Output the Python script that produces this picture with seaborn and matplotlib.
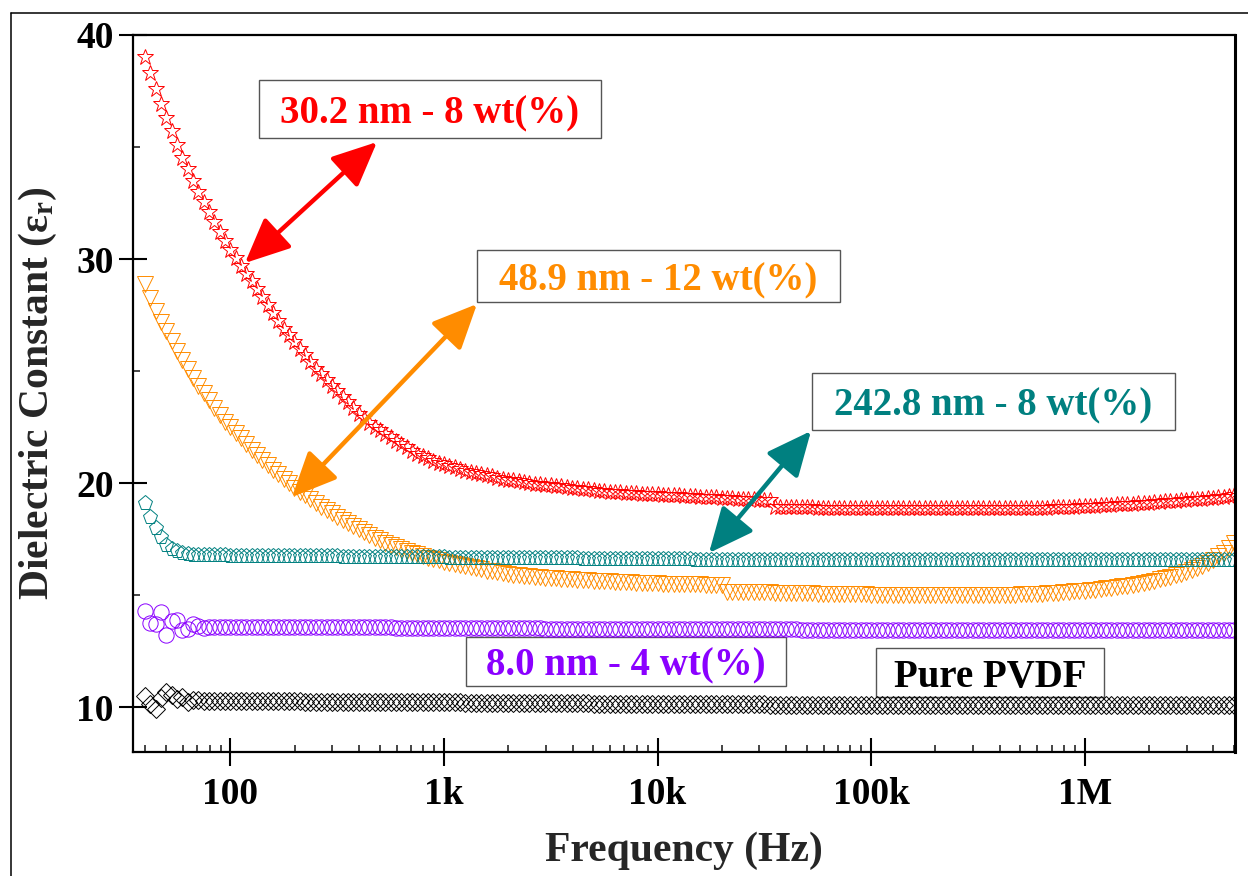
import numpy as np
import pandas as pd
import matplotlib
matplotlib.use("Agg")
import matplotlib.pyplot as plt
import seaborn as sns
from matplotlib.patches import Rectangle, FancyArrowPatch
from matplotlib.lines import Line2D
from matplotlib.ticker import LogLocator, NullFormatter

# Frequency sweep: 40 points per decade, 39.8 Hz to 5 MHz
freq_hz = np.logspace(1.6, 6.7, 205)

eps_30nm_8wt = [
    39.0, 38.3, 37.6, 36.9, 36.3, 35.7, 35.1, 34.5, 34.0, 33.5,
    33.0, 32.55, 32.1, 31.65, 31.2, 30.8, 30.4, 30.05, 29.7, 29.35,
    29.0, 28.65, 28.3, 27.95, 27.6, 27.25, 26.9, 26.6, 26.3, 26.0,
    25.7, 25.4, 25.1, 24.85, 24.6, 24.35, 24.1, 23.85, 23.6, 23.35,
    23.1, 22.9, 22.7, 22.52, 22.35, 22.2, 22.05, 21.9, 21.75, 21.6,
    21.45, 21.32, 21.2, 21.1, 21.0, 20.92, 20.85, 20.77, 20.7, 20.62,
    20.55, 20.5, 20.45, 20.4, 20.35, 20.3, 20.25, 20.2, 20.15, 20.12,
    20.1, 20.05, 20.0, 19.97, 19.95, 19.92, 19.9, 19.87, 19.85, 19.82,
    19.8, 19.77, 19.75, 19.72, 19.7, 19.67, 19.65, 19.62, 19.6, 19.59,
    19.58, 19.56, 19.55, 19.53, 19.52, 19.51, 19.5, 19.48, 19.47, 19.46,
    19.45, 19.43, 19.42, 19.41, 19.4, 19.38, 19.37, 19.36, 19.35, 19.34,
    19.33, 19.31, 19.3, 19.29, 19.28, 19.26, 19.25, 19.24, 18.95, 18.95,
    18.95, 18.94, 18.93, 18.93, 18.92, 18.92, 18.91, 18.91, 18.9, 18.9,
    18.9, 18.9, 18.9, 18.9, 18.89, 18.89, 18.89, 18.89, 18.88, 18.88,
    18.88, 18.88, 18.88, 18.88, 18.87, 18.87, 18.87, 18.87, 18.87, 18.87,
    18.87, 18.87, 18.87, 18.87, 18.87, 18.87, 18.88, 18.88, 18.88, 18.88,
    18.88, 18.88, 18.89, 18.89, 18.89, 18.9, 18.9, 18.9, 18.91, 18.91,
    18.92, 18.92, 18.93, 18.94, 18.95, 18.96, 18.97, 18.98, 19.0, 19.01,
    19.02, 19.03, 19.05, 19.06, 19.07, 19.08, 19.1, 19.11, 19.13, 19.14,
    19.16, 19.18, 19.2, 19.21, 19.23, 19.25, 19.27, 19.28, 19.3, 19.32,
    19.35, 19.37, 19.4, 19.42, 19.45,
]

eps_49nm_12wt = [
    28.9, 28.25, 27.7, 27.2, 26.8, 26.35, 25.9, 25.5, 25.1, 24.7,
    24.35, 24.0, 23.7, 23.35, 23.05, 22.75, 22.5, 22.25, 22.0, 21.75,
    21.5, 21.27, 21.05, 20.82, 20.6, 20.4, 20.2, 20.0, 19.8, 19.62,
    19.45, 19.27, 19.1, 18.95, 18.8, 18.65, 18.5, 18.35, 18.2, 18.07,
    17.95, 17.82, 17.7, 17.57, 17.45, 17.35, 17.25, 17.15, 17.05, 16.97,
    16.9, 16.82, 16.75, 16.67, 16.6, 16.55, 16.5, 16.45, 16.4, 16.35,
    16.3, 16.25, 16.2, 16.15, 16.1, 16.07, 16.05, 16.0, 15.95, 15.92,
    15.9, 15.87, 15.85, 15.82, 15.8, 15.78, 15.77, 15.75, 15.73, 15.71,
    15.7, 15.69, 15.68, 15.66, 15.65, 15.64, 15.63, 15.61, 15.6, 15.59,
    15.58, 15.57, 15.56, 15.55, 15.55, 15.54, 15.53, 15.52, 15.52, 15.51,
    15.5, 15.49, 15.49, 15.48, 15.48, 15.47, 15.47, 15.46, 15.46, 15.16,
    15.15, 15.15, 15.14, 15.14, 15.13, 15.13, 15.12, 15.12, 15.11, 15.11,
    15.1, 15.1, 15.09, 15.09, 15.08, 15.08, 15.07, 15.07, 15.06, 15.06,
    15.05, 15.05, 15.04, 15.04, 15.03, 15.03, 15.02, 15.02, 15.01, 15.01,
    15.0, 15.0, 15.0, 15.0, 14.99, 14.99, 14.99, 14.99, 14.99, 14.99,
    14.99, 15.0, 15.0, 15.0, 15.0, 15.0, 15.0, 15.0, 15.0, 15.0,
    15.01, 15.01, 15.02, 15.02, 15.03, 15.04, 15.05, 15.06, 15.07, 15.08,
    15.1, 15.11, 15.13, 15.15, 15.17, 15.18, 15.2, 15.22, 15.25, 15.27,
    15.3, 15.33, 15.36, 15.39, 15.43, 15.46, 15.5, 15.55, 15.6, 15.65,
    15.7, 15.76, 15.82, 15.89, 15.96, 16.04, 16.12, 16.22, 16.32, 16.44,
    16.58, 16.73, 16.9, 17.12, 17.35,
]

eps_243nm_8wt = [
    19.1, 18.5, 18.0, 17.6, 17.25, 17.08, 16.95, 16.88, 16.82, 16.8,
    16.78, 16.78, 16.77,
    16.77, 16.77, 16.77, 16.76, 16.76, 16.76, 16.76, 16.76, 16.75, 16.75, 16.75, 16.75, 16.75, 16.75, 16.74, 16.74,
    16.74, 16.74, 16.74, 16.73, 16.73, 16.73, 16.73, 16.73, 16.72, 16.72, 16.72, 16.72, 16.72, 16.71, 16.71, 16.71,
    16.71, 16.71, 16.70, 16.70, 16.70, 16.70, 16.70, 16.69, 16.69, 16.69, 16.69, 16.69, 16.68, 16.68, 16.68, 16.68,
    16.68, 16.67, 16.67, 16.67, 16.67, 16.67, 16.66, 16.66, 16.66, 16.66, 16.66, 16.65, 16.65, 16.65, 16.65, 16.65,
    16.64, 16.64, 16.64, 16.64, 16.64, 16.63, 16.63, 16.63, 16.63, 16.63, 16.62, 16.62, 16.62, 16.62, 16.62, 16.61,
    16.61, 16.61, 16.61, 16.61, 16.60, 16.60, 16.60, 16.60, 16.60, 16.60, 16.59, 16.59, 16.59, 16.59, 16.59, 16.59,
    16.58, 16.58, 16.58, 16.58, 16.58, 16.58, 16.58, 16.57, 16.57, 16.57, 16.57, 16.57, 16.57, 16.57, 16.57, 16.57,
    16.56, 16.56, 16.56, 16.56, 16.56, 16.56, 16.56, 16.56, 16.56, 16.56, 16.56, 16.56, 16.56, 16.56, 16.56, 16.56,
    16.56, 16.56, 16.56, 16.56, 16.56, 16.56, 16.56, 16.56, 16.55, 16.55, 16.55, 16.55, 16.55, 16.55, 16.55, 16.55,
    16.55, 16.55, 16.55, 16.55, 16.55, 16.55, 16.55, 16.55, 16.55, 16.55, 16.55, 16.55, 16.55, 16.55, 16.55, 16.55,
    16.55, 16.55, 16.55, 16.55, 16.55, 16.55, 16.55, 16.55, 16.55, 16.55, 16.55, 16.55, 16.55, 16.55, 16.55, 16.55,
    16.55, 16.55, 16.55, 16.55, 16.55, 16.55, 16.55, 16.55, 16.55, 16.55, 16.55, 16.55, 16.55, 16.55, 16.55, 16.55,
]

eps_8nm_4wt = [
    14.3, 13.75, 13.7, 14.25, 13.2, 13.85, 13.9, 13.45, 13.5, 13.7,
    13.62, 13.55, 13.6,
    13.60, 13.60, 13.60, 13.60, 13.60, 13.60, 13.59, 13.59, 13.59, 13.59, 13.59, 13.59, 13.59, 13.58, 13.58, 13.58,
    13.58, 13.58, 13.58, 13.58, 13.57, 13.57, 13.57, 13.57, 13.57, 13.57, 13.57, 13.56, 13.56, 13.56, 13.56, 13.56,
    13.56, 13.56, 13.55, 13.55, 13.55, 13.55, 13.55, 13.55, 13.55, 13.54, 13.54, 13.54, 13.54, 13.54, 13.54, 13.54,
    13.53, 13.53, 13.53, 13.53, 13.53, 13.53, 13.53, 13.52, 13.52, 13.52, 13.52, 13.52, 13.52, 13.52, 13.51, 13.51,
    13.51, 13.51, 13.51, 13.51, 13.51, 13.50, 13.50, 13.50, 13.50, 13.50, 13.50, 13.50, 13.50, 13.50, 13.49, 13.49,
    13.49, 13.49, 13.49, 13.49, 13.49, 13.49, 13.49, 13.49, 13.48, 13.48, 13.48, 13.48, 13.48, 13.48, 13.48, 13.48,
    13.48, 13.48, 13.47, 13.47, 13.47, 13.47, 13.47, 13.47, 13.47, 13.47, 13.47, 13.47, 13.47, 13.47, 13.46, 13.46,
    13.46, 13.46, 13.46, 13.46, 13.46, 13.46, 13.46, 13.46, 13.46, 13.46, 13.46, 13.46, 13.46, 13.46, 13.46, 13.46,
    13.46, 13.46, 13.46, 13.46, 13.46, 13.46, 13.45, 13.45, 13.45, 13.45, 13.45, 13.45, 13.45, 13.45, 13.45, 13.45,
    13.45, 13.45, 13.45, 13.45, 13.45, 13.45, 13.45, 13.45, 13.45, 13.45, 13.45, 13.45, 13.45, 13.45, 13.45, 13.45,
    13.45, 13.45, 13.45, 13.45, 13.45, 13.45, 13.45, 13.45, 13.45, 13.45, 13.45, 13.45, 13.45, 13.45, 13.45, 13.45,
    13.45, 13.45, 13.45, 13.45, 13.45, 13.45, 13.45, 13.45, 13.45, 13.45, 13.45, 13.45, 13.45, 13.45, 13.45, 13.45,
]

eps_pure_pvdf = [
    10.5, 10.15, 9.9, 10.4, 10.7, 10.55, 10.35, 10.45, 10.25, 10.32,
    10.3, 10.27, 10.29,
    10.28, 10.28, 10.28, 10.28, 10.28, 10.27, 10.27, 10.27, 10.27, 10.27, 10.27, 10.26, 10.26, 10.26, 10.26, 10.26,
    10.26, 10.25, 10.25, 10.25, 10.25, 10.25, 10.25, 10.24, 10.24, 10.24, 10.24, 10.24, 10.24, 10.23, 10.23, 10.23,
    10.23, 10.23, 10.23, 10.22, 10.22, 10.22, 10.22, 10.22, 10.22, 10.21, 10.21, 10.21, 10.21, 10.21, 10.21, 10.20,
    10.20, 10.20, 10.20, 10.20, 10.20, 10.19, 10.19, 10.19, 10.19, 10.19, 10.19, 10.18, 10.18, 10.18, 10.18, 10.18,
    10.18, 10.17, 10.17, 10.17, 10.17, 10.17, 10.17, 10.16, 10.16, 10.16, 10.16, 10.16, 10.16, 10.15, 10.15, 10.15,
    10.15, 10.15, 10.15, 10.14, 10.14, 10.14, 10.14, 10.14, 10.14, 10.13, 10.13, 10.13, 10.13, 10.13, 10.13, 10.13,
    10.12, 10.12, 10.12, 10.12, 10.12, 10.12, 10.12, 10.12, 10.11, 10.11, 10.11, 10.11, 10.11, 10.11, 10.11, 10.11,
    10.11, 10.11, 10.11, 10.11, 10.11, 10.10, 10.10, 10.10, 10.10, 10.10, 10.10, 10.10, 10.10, 10.10, 10.10, 10.10,
    10.10, 10.10, 10.10, 10.10, 10.10, 10.10, 10.10, 10.10, 10.10, 10.10, 10.10, 10.10, 10.10, 10.10, 10.10, 10.10,
    10.10, 10.10, 10.10, 10.10, 10.10, 10.10, 10.10, 10.10, 10.10, 10.10, 10.10, 10.10, 10.10, 10.10, 10.10, 10.10,
    10.10, 10.10, 10.10, 10.10, 10.10, 10.10, 10.10, 10.10, 10.10, 10.10, 10.10, 10.10, 10.10, 10.10, 10.10, 10.10,
    10.10, 10.10, 10.10, 10.10, 10.10, 10.10, 10.10, 10.10, 10.10, 10.10, 10.10, 10.10, 10.10, 10.10, 10.10, 10.10,
]

sample_labels = ["30.2 nm - 8 wt(%)", "48.9 nm - 12 wt(%)", "242.8 nm - 8 wt(%)",
                 "8.0 nm - 4 wt(%)", "Pure PVDF"]
x_tick_values = [1e2, 1e3, 1e4, 1e5, 1e6]
x_tick_labels = ["100", "1k", "10k", "100k", "1M"]
y_tick_values = [10, 20, 30, 40]

series = [eps_30nm_8wt, eps_49nm_12wt, eps_243nm_8wt, eps_8nm_4wt, eps_pure_pvdf]
df = pd.concat(
    [pd.DataFrame({"freq": freq_hz, "eps": vals, "sample": lab})
     for lab, vals in zip(sample_labels, series)],
    ignore_index=True,
)

style = {
    "30.2 nm - 8 wt(%)": dict(color="#FF0000", marker="*", ms=12),
    "48.9 nm - 12 wt(%)": dict(color="#FF8C00", marker="v", ms=11),
    "242.8 nm - 8 wt(%)": dict(color="#008080", marker="p", ms=11),
    "8.0 nm - 4 wt(%)": dict(color="#8A00FF", marker="o", ms=11),
    "Pure PVDF": dict(color="#000000", marker="D", ms=9.5),
}

sns.set_style("ticks")
plt.rcParams["font.family"] = ["Liberation Serif", "DejaVu Serif"]
plt.rcParams["font.weight"] = "bold"
plt.rcParams["axes.labelweight"] = "bold"
plt.rcParams["mathtext.fontset"] = "custom"
plt.rcParams["mathtext.rm"] = "Liberation Serif:bold"
plt.rcParams["mathtext.it"] = "Liberation Serif:bold"
plt.rcParams["mathtext.bf"] = "Liberation Serif:bold"

W, H = 1248, 876
fig = plt.figure(figsize=(W / 100, H / 100), dpi=100)
ax = fig.add_axes([133 / W, 1 - 752 / H, (1235 - 133) / W, (752 - 35) / H])

for lab in sample_labels:
    st = style[lab]
    sub = df[df["sample"] == lab]
    sns.lineplot(data=sub, x="freq", y="eps", ax=ax, legend=False,
                 color=st["color"], linestyle="none", marker=st["marker"],
                 markersize=st["ms"], markerfacecolor="none",
                 markeredgecolor=st["color"], markeredgewidth=0.7,
                 estimator=None, sort=False, zorder=2)

ax.set_xscale("log")
ax.set_xlim(35, 5.05e6)
ax.set_ylim(8, 40)
ax.set_xticks(x_tick_values, labels=x_tick_labels)
ax.xaxis.set_minor_locator(LogLocator(base=10, subs=np.arange(2, 10), numticks=20))
ax.xaxis.set_minor_formatter(NullFormatter())
ax.set_yticks(y_tick_values)
ax.set_yticks([15, 25, 35], minor=True)

ax.tick_params(which="major", direction="inout", length=20, width=1.5,
               labelsize=27, pad=4, colors="black")
ax.tick_params(axis="x", which="major", pad=8)
ax.tick_params(which="minor", direction="in", length=5, width=1.2)
for lbl in ax.get_xticklabels() + ax.get_yticklabels():
    lbl.set_fontweight("bold")

for side in ["left", "bottom", "top"]:
    ax.spines[side].set_linewidth(1.6)
    ax.spines[side].set_color("black")
ax.spines["right"].set_linewidth(2.2)
ax.spines["right"].set_color("black")

ax.set_xlabel("Frequency (Hz)", fontsize=30, fontweight="bold", labelpad=14)
ax.set_ylabel(r"Dielectric Constant (ε$_\mathrm{r}$)", fontsize=30,
              fontweight="bold", labelpad=12)


def fx(px):
    return px / W


def fy(py):
    return 1 - py / H


# Labelled frames with text, then double-headed pointers to each curve
frames = [
    ("30.2 nm - 8 wt(%)", "#FF0000", (259, 80, 601, 138)),
    ("48.9 nm - 12 wt(%)", "#FF8C00", (477, 250, 840, 302)),
    ("242.8 nm - 8 wt(%)", "#008080", (812, 373, 1175, 430)),
    ("8.0 nm - 4 wt(%)", "#8A00FF", (466, 637, 786, 686)),
    ("Pure PVDF", "#000000", (876, 648, 1104, 697)),
]
for text, col, (x0, y0, x1, y1) in frames:
    ax.add_patch(Rectangle((fx(x0), fy(y1)), (x1 - x0) / W, (y1 - y0) / H,
                           transform=fig.transFigure, facecolor="white",
                           edgecolor="#555555", linewidth=1.0, clip_on=False,
                           zorder=1))
    ax.text(fx((x0 + x1) / 2), fy((y0 + y1) / 2), text, transform=fig.transFigure,
            ha="center", va="center_baseline", fontsize=28, fontweight="bold",
            color=col, zorder=3, clip_on=False)

pointers = [
    ("#FF0000", (245, 263), (377, 142)),
    ("#FF8C00", (292, 497), (477, 304)),
    ("#008080", (709, 553), (811, 431)),
]
for col, (xa, ya), (xb, yb) in pointers:
    arr = FancyArrowPatch((fx(xa), fy(ya)), (fx(xb), fy(yb)),
                          transform=fig.transFigure,
                          arrowstyle="<|-|>,head_length=1.1,head_width=0.5",
                          mutation_scale=25, linewidth=3.2, color=col,
                          shrinkA=0, shrinkB=0, clip_on=False, zorder=4)
    ax.add_patch(arr)

# Outer frame lines along the top and left of the figure
fig.add_artist(Line2D([fx(11), 1.0], [fy(13), fy(13)], color="black", lw=1.1,
                      transform=fig.transFigure))
fig.add_artist(Line2D([fx(11), fx(11)], [fy(13), 0.0], color="black", lw=1.1,
                      transform=fig.transFigure))

fig.savefig("out.png", dpi=100, facecolor="white")
